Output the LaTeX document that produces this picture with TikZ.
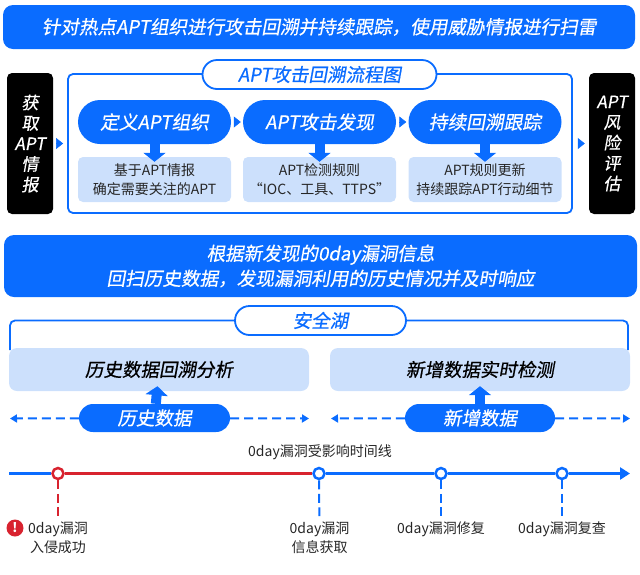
\documentclass[tikz,border=0pt]{standalone}
\usepackage{fontspec}
\setmainfont{Noto Sans CJK SC}
\newfontfamily\headfont[FakeSlant=0.18,FakeBold=0.6]{Noto Sans CJK SC}
\usetikzlibrary{arrows.meta}
\definecolor{aptblue}{HTML}{0A6CFF}
\definecolor{aptlight}{HTML}{CCE0FC}
\definecolor{aptred}{HTML}{D8232F}
\begin{document}
\begin{tikzpicture}[
			x=1pt, y=-1pt,
			banner/.style={fill=aptblue, text=white, rounded corners=10pt, inner sep=0pt, align=center, font=\headfont\fontsize{18.6}{25}\selectfont},
			sidebox/.style={fill=black, text=white, rounded corners=5pt, inner sep=0pt, minimum width=46pt, minimum height=141pt, align=center, font=\headfont\fontsize{17}{20.5}\selectfont},
			outline/.style={draw=aptblue, line width=1.8pt, rounded corners=5pt, inner sep=0pt},
			titlepill/.style={draw=aptblue, fill=white, text=aptblue, line width=1.8pt, rounded corners=14.5pt, inner sep=0pt, minimum height=29pt, font=\headfont\fontsize{18.5}{20}\selectfont},
			stagepill/.style={fill=aptblue, text=white, rounded corners=22pt, inner sep=0pt, minimum width=153pt, minimum height=44pt, font=\headfont\fontsize{18.7}{20}\selectfont},
			datapill/.style={fill=aptblue, text=white, rounded corners=14pt, inner sep=0pt, minimum height=28pt, font=\headfont\fontsize{18.5}{20}\selectfont},
			notebox/.style={fill=aptlight, text=black!85, rounded corners=5pt, inner sep=0pt, minimum width=153pt, minimum height=45pt, align=center, font=\fontsize{14}{19}\selectfont},
			lakebox/.style={fill=aptlight, text=black, rounded corners=8pt, inner sep=0pt, minimum width=300pt, minimum height=43pt, font=\headfont\fontsize{18.5}{20}\selectfont},
			fatarrow/.style={draw=aptblue, line width=10pt, -{Triangle[length=9pt, width=22pt]}, shorten >=-5pt},
			tinyarrow/.style={draw=aptblue, line width=0.5pt, -{Triangle[length=7pt, width=11pt]}},
			dasharrow/.style={draw=aptblue, line width=2pt, dash pattern=on 9pt off 5pt, -{Triangle[length=7pt, width=8pt]}},
			tline/.style={draw=aptblue, line width=2.5pt},
			tmark/.style={circle, draw=aptblue, fill=white, line width=2.5pt, minimum size=11pt, inner sep=0pt},
			tdash/.style={draw=aptblue, line width=2pt, dash pattern=on 9pt off 4.5pt, shorten >=6pt},
			tlabel/.style={text=black!85, inner sep=0pt, align=center, font=\fontsize{14}{19}\selectfont},
		]
		\useasboundingbox (0, 0) rectangle (640, 574);

		\node[banner, minimum width=632pt, minimum height=44pt] (top) at (319, 27) {针对热点APT组织进行攻击回溯并持续跟踪，使用威胁情报进行扫雷};

		\node[sidebox] (intel) at (30, 143.5) {获\\取\\APT\\情\\报};
		\node[sidebox] (risk) at (612, 143.5) {APT\\风\\险\\评\\估};
		\node[outline, minimum width=504pt, minimum height=139pt] (flow) at (320, 143.5) {};
		\node[titlepill, minimum width=234pt] (flowtitle) at (319.5, 74.5) {APT攻击回溯流程图};

		\node[stagepill] (define) at (154.5, 122) {定义APT组织};
		\node[stagepill] (detect) at (319.5, 122) {APT攻击发现};
		\node[stagepill] (track) at (485, 122) {持续回溯跟踪};
		\node[notebox] (definenote) at (154.5, 179.5) {基于APT情报\\确定需要关注的APT};
		\node[notebox] (detectnote) at (319.5, 179.5) {APT检测规则\\“IOC、工具、TTPS”};
		\node[notebox] (tracknote) at (485, 179.5) {APT规则更新\\持续跟踪APT行动细节};

		\draw[fatarrow] (define) -- (definenote);
		\draw[fatarrow] (detect) -- (detectnote);
		\draw[fatarrow] (track) -- (tracknote);
		\draw[tinyarrow, shorten <=3pt, shorten >=2pt] (define) -- (detect);
		\draw[tinyarrow, shorten <=3pt, shorten >=2pt] (detect) -- (track);
		\draw[tinyarrow, shorten <=4pt, shorten >=4pt] (intel) -- (flow);
		\draw[tinyarrow, shorten <=6pt, shorten >=4pt] (flow) -- (risk);

		\node[banner, minimum width=633pt, minimum height=62pt] (scan) at (320.5, 266) {根据新发现的0day漏洞信息\\回扫历史数据，发现漏洞利用的历史情况并及时响应};

		% Data lake frame
		\coordinate (lakeleft) at (10, 350);
		\coordinate (lakeright) at (628, 350);
		\node[titlepill, minimum width=171pt] (lake) at (320.5, 320.5) {安全湖};
		\draw[outline] (lakeleft) |- (lake);
		\draw[outline] (lakeright) |- (lake);
		\node[lakebox] (history) at (159, 369.5) {历史数据回溯分析};
		\node[lakebox] (realtime) at (480, 369.5) {新增数据实时检测};
		\node[datapill, minimum width=151pt] (olddata) at (154.5, 418) {历史数据};
		\node[datapill, minimum width=150pt] (newdata) at (480, 418) {新增数据};
		\draw[fatarrow] (olddata) -- (history);
		\draw[fatarrow] (newdata) -- (realtime);

		\coordinate (oldleft) at (10, 418.5);
		\coordinate (oldright) at (309, 418.5);
		\coordinate (newleft) at (331, 418.5);
		\coordinate (newright) at (630, 418.5);
		\draw[dasharrow] (olddata) -- (oldleft);
		\draw[dasharrow] (olddata) -- (oldright);
		\draw[dasharrow] (newdata) -- (newleft);
		\draw[dasharrow] (newdata) -- (newright);

		% Timeline
		\node[tlabel] (tltitle) at (320, 452) {0day漏洞受影响时间线};
		\coordinate (tlstart) at (9, 473.5);
		\coordinate (tlend) at (630, 473.5);
		\node[tmark, draw=aptred] (breach) at (58, 473.5) {};
		\node[tmark] (found) at (319, 473.5) {};
		\node[tmark] (fixed) at (441, 473.5) {};
		\node[tmark] (review) at (562, 473.5) {};
		\draw[tline] (tlstart) -- (breach);
		\draw[tline, draw=aptred] (breach) -- (found);
		\draw[tline] (found) -- (fixed);
		\draw[tline] (fixed) -- (review);
		\draw[tline, -{Triangle[length=10pt, width=12pt]}] (review) -- (tlend);

		\node[tlabel, anchor=north] (breachlabel) at (58, 522) {0day漏洞\\入侵成功};
		\node[tlabel, anchor=north] (foundlabel) at (319.5, 522) {0day漏洞\\信息获取};
		\node[tlabel, anchor=north] (fixedlabel) at (441, 522) {0day漏洞修复};
		\node[tlabel, anchor=north] (reviewlabel) at (562, 522) {0day漏洞复查};
		\draw[tdash, draw=aptred] (breach) -- (breachlabel);
		\draw[tdash] (found) -- (foundlabel);
		\draw[tdash] (fixed) -- (fixedlabel);
		\draw[tdash] (review) -- (reviewlabel);

		\node[circle, fill=aptred, text=white, inner sep=0pt, minimum size=17pt, font=\bfseries\fontsize{13}{13}\selectfont] (alert) at (15, 528) {!};
	\end{tikzpicture}
\end{document}
